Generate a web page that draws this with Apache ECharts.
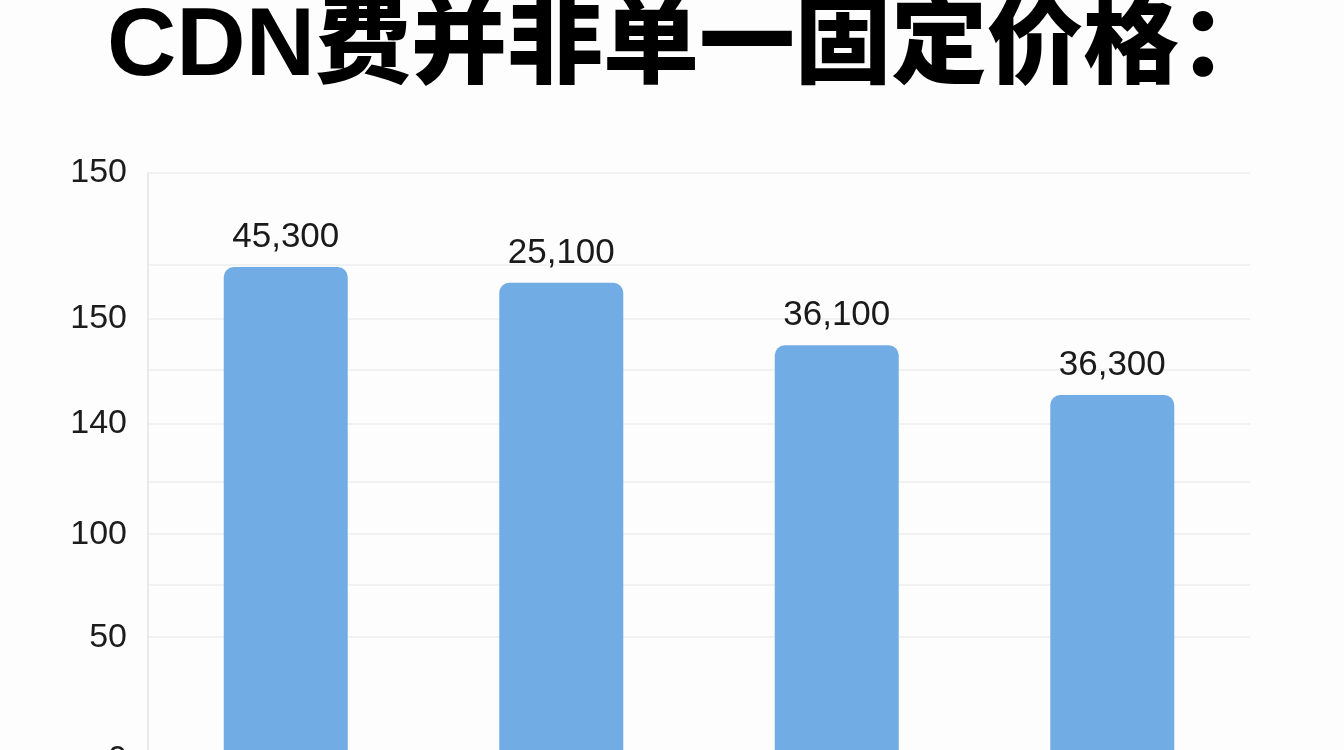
<!DOCTYPE html>
<html>
<head>
    <meta charset="utf-8" />
    <title>CDN费并非单一固定价格</title>
    <script src="https://cdn.jsdelivr.net/npm/echarts@6/dist/echarts.min.js"></script>
    <style>
        *{
            margin:0;
            padding:0;
        }
        html, body{
            width:1344px;
            height:750px;
            overflow:hidden;
            background:#fdfdfd;
        }
        #main{
            width:1344px;
            height:800px;
        }
    </style>
</head>
<body>
<div id="main"></div>
<script type="text/javascript">
    // 数据（纵轴单位：一格细网格线约为 1）
    var categories = ['类型一', '类型二', '类型三', '类型四'];
    var barValues = [9.39, 9.09, 7.9, 6.95];
    var barLabels = ['45,300', '25,100', '36,100', '36,300'];

    // 网格线所在的位置，以及刻度文字
    var gridValues = [2.34, 3.33, 4.3, 5.3, 6.4, 7.43, 8.4, 9.43, 11.18];
    var tickValues = [0, 2.34, 4.3, 6.4, 8.4, 11.18];
    var tickLabels = ['0', '50', '100', '140', '150', '150'];

    var myChart = echarts.init(document.getElementById('main'));

    var option = {
        backgroundColor: '#fdfdfd',
        animation: false,
        title: {
            text: 'CDN费并非单一固定价格：',
            left: 102,
            top: -4,
            textStyle: {
                fontFamily: '"Liberation Sans", "Noto Sans CJK SC"',
                fontWeight: 900,
                fontSize: 96,
                color: '#000'
            }
        },
        grid: {
            left: 148,
            right: 94,
            top: 173,
            bottom: 40
        },
        xAxis: {
            type: 'category',
            data: categories,
            axisLine: {show: false},
            axisTick: {show: false},
            axisLabel: {show: false}
        },
        yAxis: {
            type: 'value',
            min: 0,
            max: 11.18,
            axisLine: {
                show: true,
                lineStyle: {color: '#e3e3e3', width: 1.5}
            },
            axisTick: {
                show: false,
                customValues: gridValues
            },
            axisLabel: {
                customValues: tickValues,
                margin: 21,
                fontFamily: 'Liberation Sans',
                fontSize: 34,
                color: '#1c1c1c',
                formatter: function (val) {
                    for (var i = 0; i < tickValues.length; i++) {
                        if (Math.abs(tickValues[i] - val) < 1e-6) return tickLabels[i];
                    }
                    return '';
                }
            },
            splitLine: {
                show: true,
                lineStyle: {color: '#ececec', width: 1.5}
            }
        },
        series: [{
            name: 'CDN费',
            type: 'bar',
            barWidth: 124,
            data: barValues,
            itemStyle: {
                color: '#72ace4',
                borderRadius: [10, 10, 0, 0]
            },
            label: {
                show: true,
                position: 'top',
                distance: 12,
                fontFamily: 'Liberation Sans',
                fontSize: 35,
                color: '#1a1a1a',
                formatter: function (p) {
                    return barLabels[p.dataIndex];
                }
            }
        }]
    };

    myChart.setOption(option);
</script>
</body>
</html>
